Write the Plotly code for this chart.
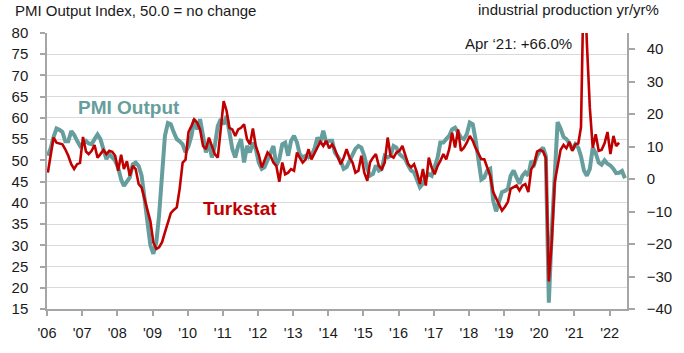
import plotly.graph_objects as go
import pandas as pd

# ---------------- data ----------------
start_month = "2006-01-01"

pmi_output = [
    51.1, 53.0, 55.5, 57.5, 57.2, 56.7, 54.5, 54.5, 56.9, 56.0, 54.6, 53.4,   # 2006
    54.0, 54.6, 54.0, 53.8, 55.0, 56.1, 55.0, 52.2, 50.3, 51.5, 50.5, 49.9,   # 2007
    48.3, 45.5, 44.0, 45.0, 46.0, 49.1, 49.5, 48.7, 46.4, 41.0, 35.5, 30.0,   # 2008
    28.0, 30.8, 37.0, 46.4, 55.8, 58.8, 58.5, 56.6, 55.0, 54.5, 53.8, 51.9,   # 2009
    53.4, 55.8, 59.7, 57.3, 59.7, 55.8, 51.9, 54.2, 50.7, 53.4, 58.1, 59.7,   # 2010
    58.5, 60.5, 57.3, 52.7, 50.7, 53.4, 55.0, 49.5, 53.4, 51.9, 54.2, 52.7,   # 2011
    49.5, 48.0, 48.4, 50.3, 51.9, 53.4, 48.8, 50.3, 53.8, 54.2, 51.1, 54.6,   # 2012
    55.8, 54.2, 51.5, 50.7, 51.1, 50.7, 51.1, 52.7, 55.4, 54.2, 57.0, 54.2,   # 2013
    54.6, 54.6, 51.9, 50.7, 49.9, 48.0, 48.4, 49.9, 51.1, 52.7, 53.4, 53.0,   # 2014
    51.1, 48.0, 46.4, 46.8, 48.8, 47.6, 48.0, 51.1, 50.7, 51.1, 53.4, 53.0,   # 2015
    51.5, 50.7, 50.3, 48.8, 47.6, 47.2, 45.2, 43.7, 44.5, 46.0, 46.8, 46.4,   # 2016
    48.4, 50.7, 54.2, 54.2, 55.0, 55.8, 57.3, 57.7, 56.6, 55.4, 55.0, 56.2,   # 2017
    58.9, 58.5, 55.0, 49.5, 45.5, 46.0, 47.6, 48.0, 40.5, 38.0, 40.5, 42.5,   # 2018
    42.8, 43.3, 46.4, 47.6, 46.0, 44.5, 46.4, 47.2, 46.4, 49.9, 49.1, 51.1,   # 2019
    52.2, 53.0, 51.0, 16.5, 33.0, 47.0, 59.0, 57.5, 55.5, 55.0, 54.0, 52.5,   # 2020
    53.8, 53.0, 51.0, 47.6, 46.4, 48.0, 53.0, 51.7, 49.5, 49.0, 50.0, 49.2,   # 2021
    48.8, 48.0, 47.0, 47.1, 47.5, 45.8,                                       # 2022
]

turkstat_ip = [
    2.0, 7.2, 12.8, 11.2, 11.0, 10.7, 9.2, 7.2, 4.6, 3.1, 4.6, 5.0,           # 2006
    13.0, 8.5, 7.7, 8.7, 10.5, 6.6, 7.7, 9.0, 7.7, 8.7, 8.4, 7.2,             # 2007
    2.6, 7.5, 3.1, 5.5, 1.0, 4.1, 3.1, -1.5, -2.6, -6.1, -9.0, -13.0,         # 2008
    -19.5, -21.5, -21.0, -19.4, -16.4, -13.0, -10.5, -9.5, -8.7, -3.0, 5.1, 6.0,  # 2009
    14.5, 16.4, 18.4, 17.4, 15.3, 10.2, 9.2, 12.8, 10.2, 7.7, 6.6, 14.3,      # 2010
    24.0, 21.0, 15.8, 15.3, 13.3, 15.3, 15.8, 16.9, 12.3, 10.7, 15.6, 10.2,   # 2011
    7.5, 3.6, 6.1, 8.2, 7.2, 5.1, 4.1, -0.8, 5.1, 1.5, 2.0, 3.1,              # 2012
    2.6, 8.2, 6.6, 5.1, 6.1, 9.2, 6.1, 8.0, 10.0, 11.5, 10.2, 11.8,           # 2013
    9.5, 10.7, 9.2, 6.6, 4.6, 6.6, 9.2, 6.6, 5.1, 2.0, 2.6, 7.2,              # 2014
    2.0, -0.5, 5.1, 6.6, 7.7, 4.1, 3.1, 5.1, 12.8, 7.2, 6.6, 8.2,             # 2015
    8.7, 10.2, 7.7, 4.6, 3.6, 4.6, 2.0, -1.5, 3.1, -2.0, 6.6, 3.6,            # 2016
    1.5, 4.1, 5.6, 7.7, 6.1, 9.2, 14.3, 9.7, 15.3, 8.7, 9.7, 11.2,            # 2017
    13.3, 11.8, 9.7, 7.7, 6.1, 6.1, 3.5, 1.0, -4.0, -6.0, -7.5, -9.7,         # 2018
    -8.5, -7.0, -3.0, -2.5, -2.0, -3.5, -2.0, -1.5, -4.0, 3.0, 4.5, 8.5,      # 2019
    9.0, 8.5, 6.5, -31.5, -19.5, -1.0, 4.5, 9.0, 10.5, 9.5, 11.5, 8.7,        # 2020
    10.7, 11.0, 16.0, 66.0, 42.0, 22.0, 9.7, 13.8, 8.7, 9.0, 11.0, 14.5,      # 2021
    7.7, 13.3, 10.2, 11.2,                                                    # 2022
]

year_ticks = list(range(2006, 2023))
year_labels = ["'06", "'07", "'08", "'09", "'10", "'11", "'12", "'13", "'14",
               "'15", "'16", "'17", "'18", "'19", "'20", "'21", "'22"]

left_ticks = list(range(15, 81, 5))
right_ticks = list(range(-40, 41, 10))

left_title = "PMI Output Index, 50.0 = no change"
right_title = "industrial production yr/yr%"
peak_note = "Apr \u201821: +66.0%"
pmi_label = "PMI Output"
ip_label = "Turkstat"

# ---------------- figure ----------------
offset = pd.Timedelta(days=9)
dates_pmi = pd.date_range(start_month, periods=len(pmi_output), freq="MS") + offset
dates_ip = pd.date_range(start_month, periods=len(turkstat_ip), freq="MS") + offset

TEAL = "#659e9d"
RED = "#c00000"
FONT = "Liberation Sans, Arial, sans-serif"
TXT = "#1a1a1a"

fig = go.Figure()
fig.add_trace(go.Scatter(x=dates_pmi, y=pmi_output, mode="lines",
                         line=dict(color=TEAL, width=4), yaxis="y",
                         showlegend=False, hoverinfo="skip"))
fig.add_trace(go.Scatter(x=dates_ip, y=turkstat_ip, mode="lines",
                         line=dict(color=RED, width=2.6), yaxis="y2",
                         showlegend=False, hoverinfo="skip"))

tickvals = [pd.Timestamp(f"{y}-01-01") for y in year_ticks]

fig.update_layout(
    width=684, height=353,
    margin=dict(l=40, r=52, t=33, b=43),
    paper_bgcolor="white", plot_bgcolor="white",
    font=dict(family=FONT, size=15, color=TXT),
    xaxis=dict(
        range=[pd.Timestamp("2006-01-01"), pd.Timestamp("2022-07-01")],
        tickmode="array", tickvals=tickvals, ticktext=year_labels,
        showgrid=False, zeroline=False,
        showline=True, linecolor="#a6a6a6", linewidth=1.5,
        ticks="outside", ticklen=5, tickcolor="#a6a6a6", tickwidth=1.5,
        ticklabelstandoff=5,
        tickfont=dict(size=14.5, color=TXT),
    ),
    yaxis=dict(
        range=[15, 80], tickmode="array", tickvals=left_ticks,
        showgrid=True, gridcolor="#d9d9d9", gridwidth=1.4,
        zeroline=False,
        showline=True, linecolor="#a6a6a6", linewidth=1.5,
        ticks="outside", ticklen=5, tickcolor="#a6a6a6", tickwidth=1.5,
        ticklabelstandoff=9,
        tickfont=dict(size=15, color=TXT),
    ),
    yaxis2=dict(
        range=[-40, 45], overlaying="y", side="right",
        tickmode="array", tickvals=right_ticks,
        showgrid=False, zeroline=False,
        showline=True, linecolor="#a6a6a6", linewidth=1.5,
        ticks="outside", ticklen=6, tickcolor="#a6a6a6", tickwidth=1.5,
        ticklabelstandoff=9,
        tickfont=dict(size=15, color=TXT),
    ),
    annotations=[
        dict(text=left_title, xref="paper", yref="paper", x=-0.059, y=1.083,
             xanchor="left", yanchor="middle", showarrow=False,
             font=dict(size=15, color=TXT)),
        dict(text=right_title, xref="paper", yref="paper", x=1.059, y=1.085,
             xanchor="right", yanchor="middle", showarrow=False,
             font=dict(size=15, color=TXT)),
        dict(text=peak_note, xref="paper", yref="paper", x=0.909, y=0.962,
             xanchor="right", yanchor="middle", showarrow=False,
             font=dict(size=15, color=TXT)),
        dict(text="<b>" + pmi_label + "</b>", xref="paper", yref="paper",
             x=0.142, y=0.729, xanchor="center", yanchor="middle",
             showarrow=False, font=dict(size=19, color=TEAL)),
        dict(text="<b>" + ip_label + "</b>", xref="paper", yref="paper",
             x=0.332, y=0.363, xanchor="center", yanchor="middle",
             showarrow=False, font=dict(size=19, color=RED)),
    ],
)

fig.write_html("out.html")
